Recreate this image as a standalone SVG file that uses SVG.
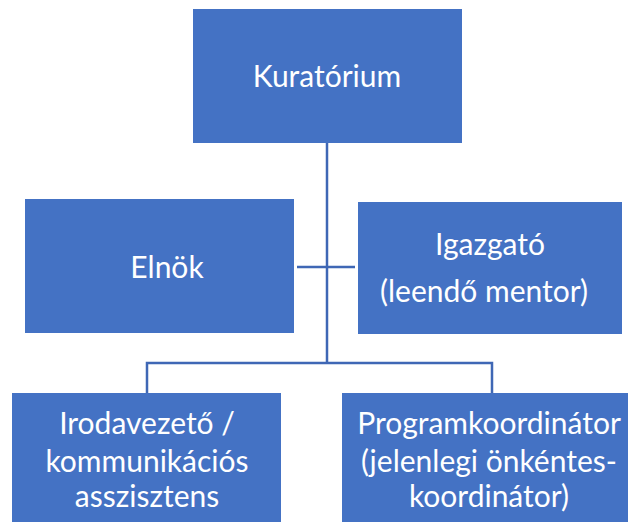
<svg xmlns="http://www.w3.org/2000/svg" width="628" height="522" viewBox="0 0 628 522">
<style>
.box{fill:#4472C4;}
.t{fill:#FFFFFF;font-family:Lato,"Open Sans","Liberation Sans",sans-serif;font-size:30px;text-anchor:middle;}
.c{stroke:#3F67B5;stroke-width:2.5;fill:none;}
</style>
<rect width="628" height="522" fill="#FFFFFF"/>
<g id="connectors">
<path class="c" d="M327 143 V363"/>
<path class="c" d="M297 267 H355"/>
<path class="c" d="M147 393 V363 H492 V393"/>
</g>
<g id="kuratorium">
<rect class="box" x="193" y="9" width="269" height="134"/>
<text class="t" x="327" y="87">Kuratórium</text>
</g>
<g id="elnok">
<rect class="box" x="25" y="199" width="269" height="134"/>
<text class="t" x="167" y="278">Elnök</text>
</g>
<g id="igazgato">
<rect class="box" x="358" y="202" width="264" height="132"/>
<text class="t" x="490" y="255">Igazgató</text>
<text class="t" x="484" y="302">(leendő mentor)</text>
</g>
<g id="irodavezeto">
<rect class="box" x="12" y="393" width="269" height="140"/>
<text class="t" x="147" y="434">Irodavezető /</text>
<text class="t" x="147" y="472">kommunikációs</text>
<text class="t" x="147" y="507">asszisztens</text>
</g>
<g id="programkoordinator">
<rect class="box" x="342" y="393" width="296" height="140"/>
<text class="t" x="489" y="434">Programkoordinátor</text>
<text class="t" x="489" y="472">(jelenlegi önkéntes-</text>
<text class="t" x="489" y="507">koordinátor)</text>
</g>
</svg>
